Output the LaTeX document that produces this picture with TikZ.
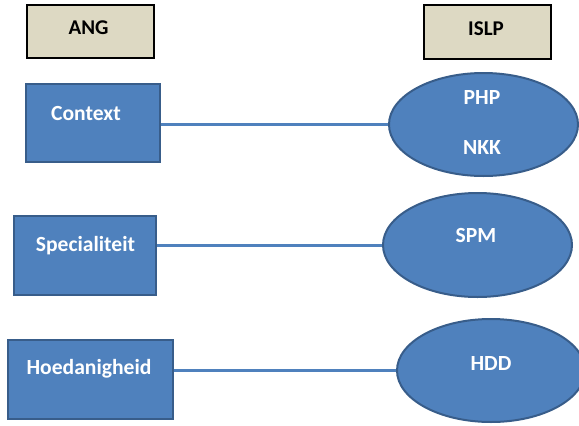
\documentclass[tikz,border=0pt]{standalone}
\usepackage{fontspec}
\setmainfont{Carlito}
\usetikzlibrary{shapes.geometric}
\definecolor{boxblue}{HTML}{4F81BD}
\definecolor{edgeblue}{HTML}{385D8A}
\definecolor{beige}{HTML}{DDD9C3}
\tikzset{
  hdrbox/.style={draw=black, line width=2.4pt, fill=beige, inner sep=0pt},
  bluebox/.style={draw=edgeblue, line width=2pt, fill=boxblue, inner sep=0pt},
  blueell/.style={ellipse, draw=edgeblue, line width=2pt, fill=boxblue, inner sep=0pt},
  wtxt/.style={text=white, font=\bfseries\fontsize{21.6}{26}\selectfont, inner sep=0pt},
  btxt/.style={text=black, font=\bfseries\fontsize{21}{25}\selectfont, inner sep=0pt},
  conn/.style={draw=boxblue, line width=3pt}
}
\begin{document}
\begin{tikzpicture}[x=1pt,y=-1pt]
\useasboundingbox (0,0) rectangle (579,426);
% header boxes
\node[hdrbox, minimum width=127pt, minimum height=53pt] (ang) at (90.5,31.5) {};
\node[btxt] (angt) at (88.5,28) {ANG};
\node[hdrbox, minimum width=127pt, minimum height=54pt] (islp) at (487.5,32) {};
\node[btxt] (islpt) at (486,28.5) {ISLP};
% left boxes
\node[bluebox, minimum width=134pt, minimum height=78pt] (ctx) at (93,123) {};
\node[wtxt] (ctxt) at (86,113) {Context};
\node[bluebox, minimum width=142pt, minimum height=79pt] (spe) at (85,255.5) {};
\node[wtxt] (spet) at (85.5,246) {Specialiteit};
\node[bluebox, minimum width=165pt, minimum height=79pt] (hoe) at (90.5,379.5) {};
\node[wtxt] (hoet) at (89,369) {Hoedanigheid};
% ellipses
\node[blueell, minimum width=189pt, minimum height=103pt] (e1) at (483.5,124.5) {};
\node[wtxt] (php) at (482,97) {PHP};
\node[wtxt] (nkk) at (482,147) {NKK};
\node[blueell, minimum width=189pt, minimum height=104pt] (e2) at (477.5,245) {};
\node[wtxt] (spm) at (476,235) {SPM};
\node[blueell, minimum width=188pt, minimum height=103pt] (e3) at (491,370.5) {};
\node[wtxt] (hdd) at (491,363) {HDD};
% connectors
\draw[conn] (ctx.east |- e1.west) -- (e1.west);
\draw[conn] (spe.east |- e2.west) -- (e2.west);
\draw[conn] (hoe.east |- e3.west) -- (e3.west);
\end{tikzpicture}
\end{document}
